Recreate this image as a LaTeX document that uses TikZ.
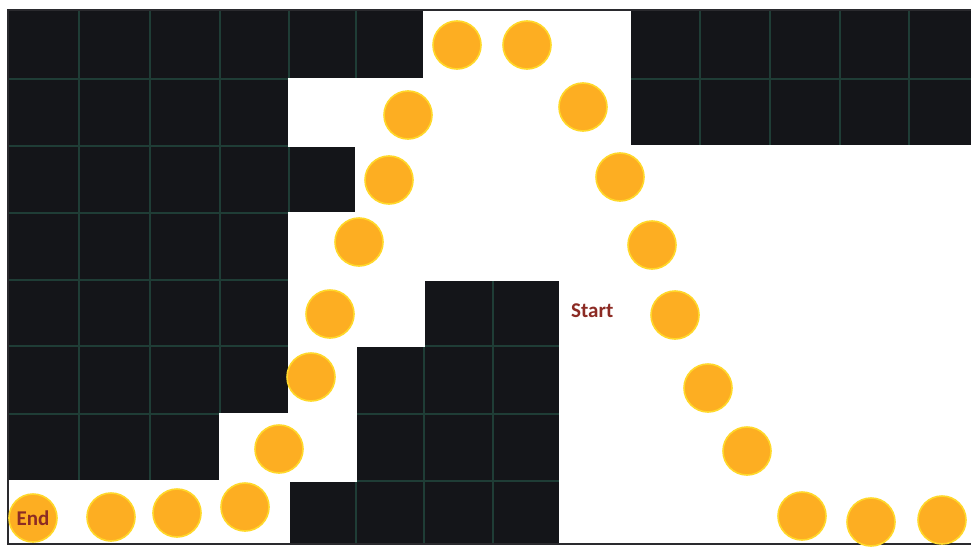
\documentclass[tikz,border=0pt]{standalone}
\usepackage{fontspec}
\setmainfont{Carlito}
\definecolor{cellblack}{HTML}{141519}
\definecolor{gridteal}{HTML}{1F3D36}
\definecolor{ballfill}{HTML}{FDAE22}
\definecolor{balledge}{HTML}{FFD82A}
\definecolor{labelred}{HTML}{8C2B24}
\definecolor{frame}{HTML}{2A2A2E}
\tikzset{
  gridline/.style={draw=gridteal, line width=1.3pt},
  ball/.style={circle, fill=ballfill, draw=balledge, line width=1.6pt, minimum size=48pt, inner sep=0pt},
  lbl/.style={font=\bfseries\fontsize{21}{24}\selectfont, text=labelred, inner sep=0pt}
}
\begin{document}
\begin{tikzpicture}[x=1pt,y=-1pt]
\useasboundingbox (0,0) rectangle (971,546);
\fill[white] (0,0) rectangle (971,546);
% grid coordinates
\foreach \i/\x in {0/8,1/79,2/150,3/220,4/289,5/356,6/424,7/493,8/560,9/630,10/700,11/770,12/840,13/909,14/979}
  \coordinate (X\i) at (\x,0);
\foreach \j/\y in {0/10,1/79,2/146,3/213,4/280,5/346,6/414,7/481,8/544}
  \coordinate (Y\j) at (0,\y);
% black field with grid lines
\fill[cellblack] (X0|-Y0) rectangle (X14|-Y8);
\foreach \i in {1,...,13} \draw[gridline] (X\i|-Y0) -- (X\i|-Y8);
\foreach \j in {1,...,7} \draw[gridline] (X0|-Y\j) -- (X14|-Y\j);
% free (white) region
\filldraw[fill=white, draw=white, line width=1.5pt]
  (X6|-Y0) -- (X9|-Y0) -- (X9|-Y2) -- (X14|-Y2) -- (X14|-Y8) -- (X8|-Y8)
  -- (X8|-Y4) -- (X6|-Y4) -- (X6|-Y5) -- (X5|-Y5) -- (X5|-Y7) -- (X4|-Y7)
  -- (X4|-Y8) -- (X0|-Y8) -- (X0|-Y7) -- (X3|-Y7) -- (X3|-Y6) -- (X4|-Y6)
  -- (X4|-Y3) -- (X5|-Y3) -- (X5|-Y2) -- (X4|-Y2) -- (X4|-Y1) -- (X6|-Y1) -- cycle;
% outer frame
\draw[frame, line width=1.2pt] (X0|-Y0) rectangle (X14|-Y8);
% path balls
\foreach \n/\x/\y in {c1/457/45, c2/527/45, c3/408/115, c4/583/107, c5/389/180,
    c6/620/177, c7/359/242, c8/652/245, c9/330/314, c10/675/315, c11/311/377,
    c12/708/388, c13/279/449, c14/747/451, c15/245/507, c16/177/513, c17/111/517,
    c19/802/516, c20/871/522, c21/942/520}
  \node[ball] (\n) at (\x,\y) {};
\node[ball, lbl] (c18) at (33,518) {End};
\node[lbl, anchor=west] (start) at (571,311) {Start};
\end{tikzpicture}
\end{document}
